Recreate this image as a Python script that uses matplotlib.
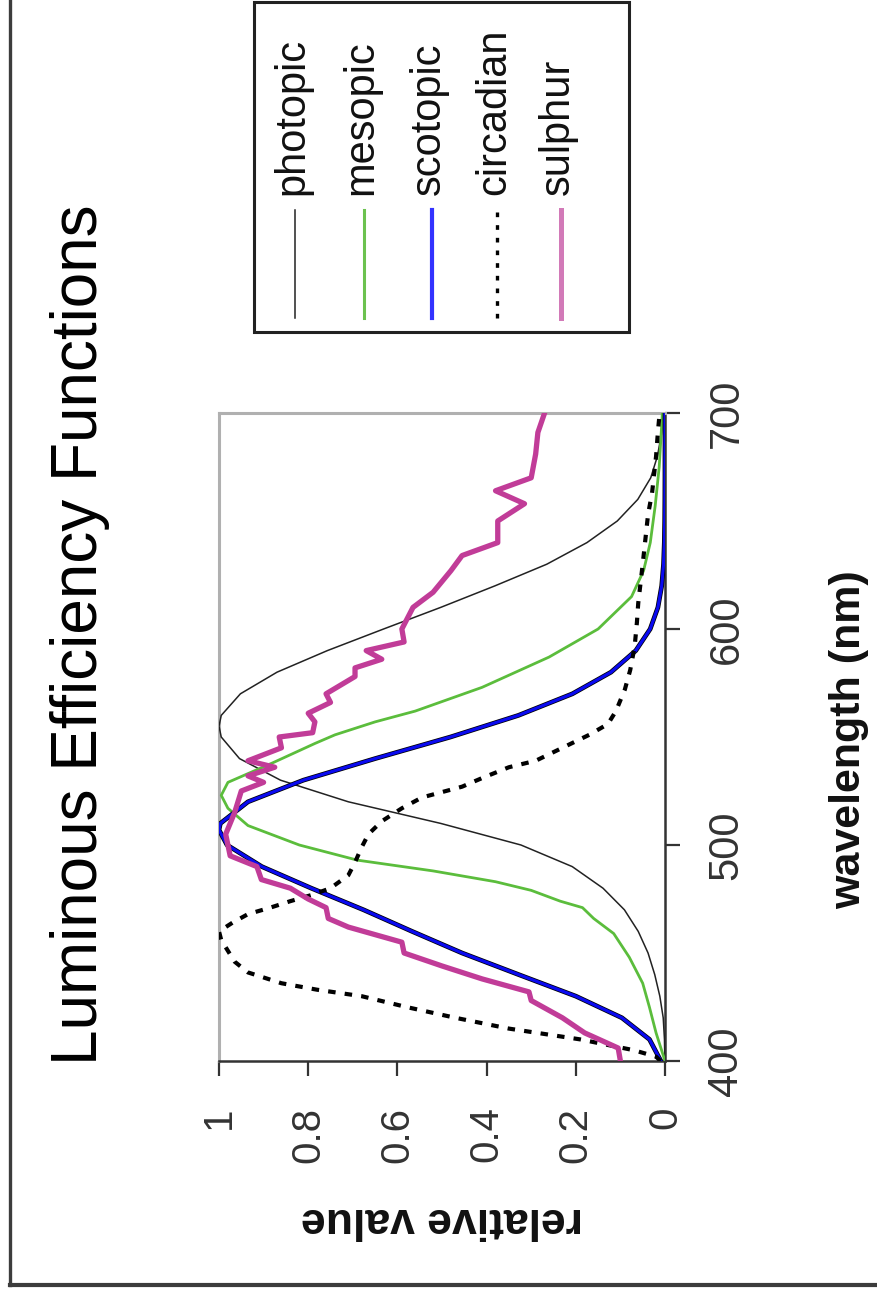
import matplotlib
matplotlib.use("Agg")
import matplotlib.pyplot as plt
from matplotlib.lines import Line2D
from matplotlib.patches import Rectangle

# ---------------- data ----------------
photopic_wl = [400, 410, 420, 430, 440, 450, 460, 470, 480, 490, 500, 510, 520, 530, 540, 550,
               555, 560, 570, 580, 590, 600, 610, 620, 630, 640, 650, 660, 670, 680, 690, 700]
photopic = [0.0004, 0.0012, 0.004, 0.0116, 0.023, 0.038, 0.06, 0.091, 0.139, 0.208, 0.323,
            0.503, 0.71, 0.862, 0.954, 0.995, 1.0, 0.995, 0.952, 0.87, 0.757, 0.631, 0.503,
            0.381, 0.265, 0.175, 0.107, 0.061, 0.032, 0.017, 0.0082, 0.0041]

scotopic_wl = [400, 410, 420, 430, 440, 450, 460, 470, 480, 490, 500, 507, 510, 520, 530, 540,
               550, 560, 570, 580, 590, 600, 610, 620, 630, 640, 650, 660, 670, 680, 690, 700]
scotopic = [0.0093, 0.0348, 0.0966, 0.1998, 0.3281, 0.455, 0.567, 0.676, 0.793, 0.904, 0.982,
            1.0, 0.997, 0.935, 0.811, 0.65, 0.481, 0.3288, 0.2076, 0.1212, 0.0655, 0.0332,
            0.0159, 0.0074, 0.0033, 0.0015, 0.0007, 0.0003, 0.0001, 0.0001, 0.0, 0.0]

mesopic_wl = [400, 413, 425, 436, 448, 459, 466, 471, 474, 479, 483, 488, 493, 500, 509, 517,
              523, 529, 538, 547, 551, 557, 562, 573, 587, 600, 615, 627, 640, 657, 675, 696, 700]
mesopic = [0.0, 0.02, 0.035, 0.05, 0.08, 0.115, 0.16, 0.185, 0.235, 0.30, 0.38, 0.52, 0.69,
           0.82, 0.935, 0.98, 0.995, 0.98, 0.88, 0.785, 0.74, 0.65, 0.56, 0.41, 0.26, 0.15,
           0.075, 0.048, 0.033, 0.022, 0.013, 0.007, 0.006]

circadian_wl = [400, 402, 405, 410, 415, 420, 425, 430, 433, 436, 441, 446, 451, 456, 460, 464,
                468, 471, 474, 477, 480, 486, 492, 499, 505, 511, 517, 522, 527, 531, 536, 539,
                545, 551, 556, 562, 572, 581, 592, 603, 612, 630, 653, 663, 680, 691, 700]
circadian = [0.01, 0.02, 0.07, 0.19, 0.35, 0.47, 0.58, 0.68, 0.78, 0.86, 0.935, 0.965, 0.98,
             0.995, 1.0, 0.97, 0.935, 0.885, 0.84, 0.79, 0.75, 0.71, 0.695, 0.68, 0.665, 0.635,
             0.59, 0.545, 0.455, 0.41, 0.35, 0.29, 0.23, 0.17, 0.128, 0.11, 0.09, 0.078, 0.068,
             0.063, 0.06, 0.05, 0.038, 0.029, 0.02, 0.016, 0.012]

sulphur_wl = [400, 406, 413, 420, 428, 432, 438, 444, 450, 455, 462, 466, 471, 475, 480, 484,
              490, 495, 505, 515, 525, 529, 532, 536, 539, 545, 550, 552, 557, 561, 566, 570,
              578, 582, 586, 590, 594, 600, 610, 617, 627, 634, 640, 650, 658, 664, 670, 681,
              691, 700]
sulphur = [0.10, 0.105, 0.18, 0.23, 0.30, 0.305, 0.41, 0.50, 0.585, 0.59, 0.71, 0.755, 0.76,
           0.80, 0.84, 0.905, 0.915, 0.975, 0.985, 0.965, 0.95, 0.90, 0.935, 0.875, 0.935,
           0.86, 0.865, 0.79, 0.785, 0.80, 0.75, 0.76, 0.695, 0.695, 0.635, 0.67, 0.585, 0.59,
           0.565, 0.52, 0.48, 0.455, 0.375, 0.375, 0.315, 0.38, 0.30, 0.29, 0.285, 0.27]

series_names = ["photopic", "mesopic", "scotopic", "circadian", "sulphur"]
wl_ticks = [400, 500, 600, 700]
wl_labels = ["400", "500", "600", "700"]
rel_ticks = [0, 0.2, 0.4, 0.6, 0.8, 1]
rel_labels = ["0", "0.2", "0.4", "0.6", "0.8", "1"]

# ---------------- styles ----------------
styles = {
    "photopic": dict(color="#222222", lw=1.1, ls="-"),
    "mesopic": dict(color="#5bbd3c", lw=2.0, ls="-"),
    "scotopic": dict(color="#0a0af0", lw=2.3, ls="-"),
    "circadian": dict(color="black", lw=3.0, ls=(0, (1.8, 2.2))),
    "sulphur": dict(color="#c13c98", lw=3.8, ls="-"),
}
legend_styles = dict(styles)
legend_styles["circadian"] = dict(color="black", lw=2.4, ls=(0, (1.4, 2.4)))
legend_styles["sulphur"] = dict(color="#d27ab8", lw=3.6, ls="-")
legend_styles["scotopic"] = dict(color="#3333ff", lw=3.0, ls="-")
legend_styles["mesopic"] = dict(color="#6cc24f", lw=2.2, ls="-")

plt.rcParams["font.family"] = ["Liberation Sans", "DejaVu Sans"]

W, H = 877, 1296


def fx(px):
    return px / W


def fy(py):
    return 1 - py / H


fig = plt.figure(figsize=(W / 100, H / 100), dpi=100)
fig.patch.set_facecolor("white")

AX_L, AX_R, AX_T, AX_B = 219, 665, 413, 1061
ax = fig.add_axes([fx(AX_L), fy(AX_B), (AX_R - AX_L) / W, (AX_B - AX_T) / H])

# curves: value on the horizontal axis (1 at left), wavelength vertical
ax.plot(photopic, photopic_wl, **styles["photopic"], zorder=3)
ax.plot(mesopic, mesopic_wl, **styles["mesopic"], zorder=3)
ax.plot(scotopic, scotopic_wl, color="black", lw=3.4, zorder=3)
ax.plot(scotopic, scotopic_wl, **styles["scotopic"], zorder=3)
ax.plot(circadian, circadian_wl, **styles["circadian"], zorder=4)
ax.plot(sulphur, sulphur_wl, **styles["sulphur"], zorder=5)

ax.set_xlim(1, 0)
ax.set_ylim(400, 700)

for s in ("top", "left"):
    ax.spines[s].set_color("#b0b0b0")
    ax.spines[s].set_linewidth(2.2)
for s in ("right", "bottom"):
    ax.spines[s].set_color("#333333")
    ax.spines[s].set_linewidth(1.8)

ax.set_xticks(rel_ticks, labels=rel_labels)
ax.set_yticks(wl_ticks, labels=wl_labels)
ax.tick_params(axis="x", bottom=True, top=False, direction="out", length=10.8, width=1.6,
               color="#333333", labelsize=29, labelcolor="#333333", pad=22, labelrotation=90)
ax.tick_params(axis="y", left=False, right=True, labelleft=False, labelright=True,
               direction="out", length=10.8, width=1.6, color="#333333", labelsize=30,
               labelcolor="#333333", pad=19, labelrotation=90)
for lab in ax.get_yticklabels():
    lab.set_ha("left")
    lab.set_va("center")
for lab in ax.get_xticklabels():
    lab.set_ha("center")
    lab.set_va("top")

# axis labels
ax.set_xlabel("relative value", fontsize=32, fontweight="bold", color="#111111")
ax.xaxis.label.set_rotation(180)
ax.xaxis.label.set_rotation_mode("anchor")
ax.xaxis.label.set_ha("center")
ax.xaxis.label.set_va("center")
ax.xaxis.set_label_coords((442 - AX_L) / (AX_R - AX_L), (AX_B - 1219) / (AX_B - AX_T))

ax.yaxis.set_label_position("right")
ax.set_ylabel("wavelength (nm)", fontsize=31, fontweight="bold", color="#111111")
ax.yaxis.label.set_rotation(90)
ax.yaxis.label.set_rotation_mode("anchor")
ax.yaxis.label.set_ha("center")
ax.yaxis.label.set_va("center")
ax.yaxis.set_label_coords((849 - AX_L) / (AX_R - AX_L), (AX_B - 740) / (AX_B - AX_T))

# title
fig.suptitle("Luminous Efficiency Functions", x=fx(97), y=fy(635), rotation=90,
             rotation_mode="anchor", ha="center", va="baseline", fontsize=46, color="black")

# legend (drawn rotated, like the rest of the chart)
fig.add_artist(Rectangle((fx(254), fy(332)), (629 - 254) / W, (332 - 2) / H,
                         transform=fig.transFigure, fill=False, edgecolor="#222222", lw=2.2))
leg_x = [295, 364, 432, 497, 561]
for name, x in zip(series_names, leg_x):
    st = legend_styles[name]
    fig.add_artist(Line2D([fx(x), fx(x)], [fy(318), fy(210)], transform=fig.transFigure,
                          color=st["color"], lw=st["lw"], ls=st["ls"]))
    fig.text(fx(x + 8), fy(195), name, rotation=90, rotation_mode="anchor", ha="left",
             va="baseline", fontsize=30, color="#111111")

# outer frame
fig.add_artist(Line2D([fx(10), fx(10)], [fy(-5), fy(1285)], transform=fig.transFigure,
                      color="#3c3c3c", lw=2.4))
fig.add_artist(Line2D([fx(10), fx(890)], [fy(1285), fy(1285)], transform=fig.transFigure,
                      color="#3c3c3c", lw=3.0))

fig.savefig("out.png", dpi=100)
